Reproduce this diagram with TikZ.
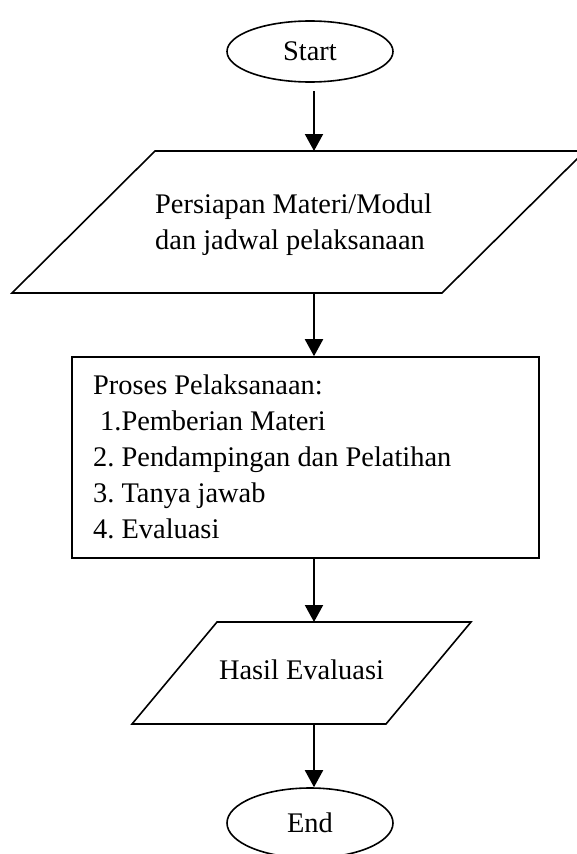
\documentclass[tikz,border=0pt]{standalone}
\usepackage{fontspec}
\setmainfont{Liberation Serif}
\usetikzlibrary{shapes.geometric,arrows.meta}
\begin{document}
\frenchspacing
\begin{tikzpicture}[x=1pt,y=-1pt,
  font=\fontsize{28.4}{36}\selectfont,
  shapeline/.style={draw=black,line width=1.6pt},
  terminal/.style={shapeline,ellipse,inner sep=0pt,minimum width=166pt},
  flow/.style={line width=2pt,-{Triangle[length=17pt,width=18pt]}},
  txt/.style={inner sep=0pt}]
\useasboundingbox (0,0) rectangle (577,854);
% Start
\node[terminal,minimum height=61pt] (start) at (310,51.5) {Start};
% Input parallelogram 1
\draw[shapeline] (155,151) -- (585,151) -- (442,293) -- (12,293) -- cycle;
\coordinate (p1top) at (314,151);
\coordinate (p1bot) at (314,293);
\node[txt,anchor=west,align=left] (p1) at (155,224.5) {Persiapan Materi/Modul\\dan jadwal pelaksanaan};
% Process box
\node[shapeline,rectangle,minimum width=467pt,minimum height=201pt,inner sep=0pt] (proc) at (305.5,457.5) {};
\node[txt,anchor=west,align=left] (proctext) at (93,457)
 {Proses Pelaksanaan:\\\hspace*{7pt}1.Pemberian Materi\\2. Pendampingan dan Pelatihan\\3. Tanya jawab\\4. Evaluasi};
% Output parallelogram 2
\draw[shapeline] (217,622) -- (471,622) -- (386,724) -- (132,724) -- cycle;
\coordinate (p2top) at (314,622);
\coordinate (p2bot) at (314,724);
\node[txt] (p2) at (301.5,670) {Hasil Evaluasi};
% End
\node[terminal,minimum height=70pt] (end) at (310,823) {End};
% Connectors
\coordinate (a1) at (314,91);
\draw[flow] (a1) -- (p1top);
\draw[flow] (p1bot) -- (p1bot |- proc.north);
\draw[flow] (p2top |- proc.south) -- (p2top);
\draw[flow] (p2bot) -- (p2bot |- end.north);
\end{tikzpicture}
\end{document}
